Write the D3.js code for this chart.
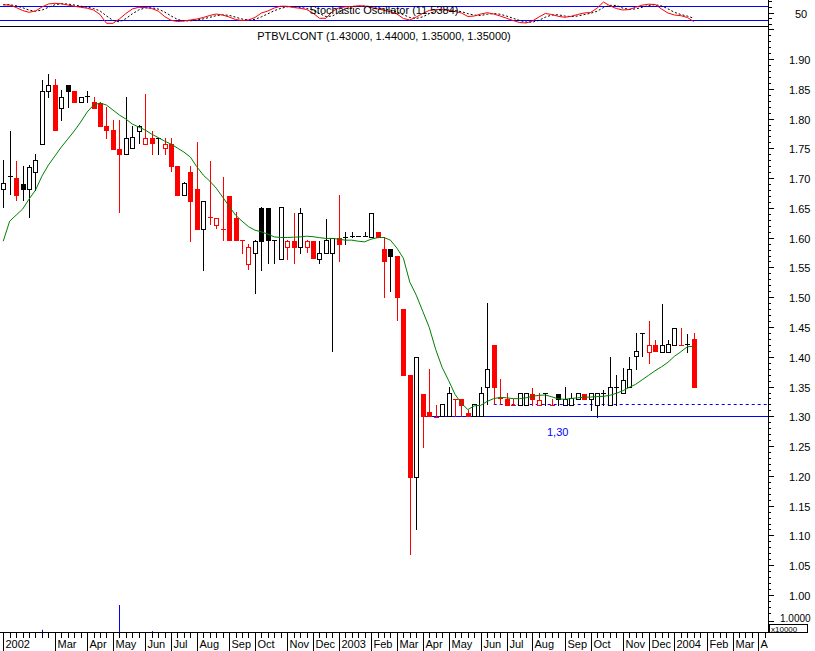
<!DOCTYPE html>
<html><head><meta charset="utf-8">
<script src="https://cdn.jsdelivr.net/npm/d3@7"></script>
<style>
html,body{margin:0;padding:0;background:#fff;}
svg{display:block;font-family:"Liberation Sans",Arial,sans-serif;}
</style></head><body>
<svg id="chart" width="815" height="651"></svg>
<script>
// ---------------- DATA ----------------
const symbol = "PTBVLCONT";
const dates = ["2002-01-04","2002-01-11","2002-01-18","2002-01-25","2002-02-01","2002-02-08","2002-02-15","2002-02-22","2002-03-01","2002-03-08","2002-03-15","2002-03-22","2002-03-28","2002-04-05","2002-04-12","2002-04-19","2002-04-26","2002-05-03","2002-05-10","2002-05-17","2002-05-24","2002-05-31","2002-06-07","2002-06-14","2002-06-21","2002-06-28","2002-07-05","2002-07-12","2002-07-19","2002-07-26","2002-08-02","2002-08-09","2002-08-16","2002-08-23","2002-08-30","2002-09-06","2002-09-13","2002-09-20","2002-09-27","2002-10-04","2002-10-11","2002-10-18","2002-10-25","2002-10-31","2002-11-08","2002-11-15","2002-11-22","2002-11-29","2002-12-06","2002-12-13","2002-12-20","2002-12-27",
"2003-01-03","2003-01-10","2003-01-17","2003-01-24","2003-01-31","2003-02-07","2003-02-14","2003-02-21","2003-02-28","2003-03-07","2003-03-14","2003-03-21","2003-03-28","2003-04-04","2003-04-11","2003-04-17","2003-04-25","2003-05-02","2003-05-09","2003-05-16","2003-05-23","2003-05-30","2003-06-06","2003-06-13","2003-06-20","2003-06-27","2003-07-04","2003-07-11","2003-07-18","2003-07-25","2003-08-01","2003-08-08","2003-08-15","2003-08-22","2003-08-29","2003-09-05","2003-09-12","2003-09-19","2003-09-26","2003-10-03","2003-10-10","2003-10-17","2003-10-24","2003-10-31","2003-11-07","2003-11-14","2003-11-21","2003-11-28","2003-12-05","2003-12-12","2003-12-19","2003-12-26","2004-01-02","2004-01-09","2004-01-16","2004-01-23"];
const futureDates = ["2004-01-30","2004-02-06","2004-02-13","2004-02-20","2004-02-27","2004-03-05","2004-03-12","2004-03-19","2004-03-26","2004-04-02","2004-04-09"];

const open = [1.681,1.703,1.701,1.690,1.681,1.711,1.758,1.847,1.856,1.817,
1.856,1.846,1.827,1.838,1.827,1.826,1.788,1.780,1.749,1.740,
1.750,1.779,1.758,1.768,1.768,1.750,1.758,1.720,1.671,1.711,
1.682,1.614,1.635,1.622,1.614,1.670,1.633,1.5955,1.555,1.5745,
1.650,1.650,1.596,1.565,1.5835,1.594,1.5835,1.5835,1.594,1.565,
1.5745,1.5745,1.600,1.601,1.602,1.6025,1.603,1.601,1.610,1.581,
1.581,1.569,1.480,1.369,1.198,1.338,1.308,1.2995,1.300,1.300,
1.3297,1.3286,1.305,1.300,1.300,1.349,1.419,1.331,1.3286,1.319,
1.3197,1.3197,1.338,1.3197,1.3392,1.3197,1.338,1.3197,1.3197,1.3286,
1.338,1.3286,1.3197,1.3395,1.3197,1.3492,1.3392,1.3492,1.4008,1.440,
1.4081,1.4193,1.4081,1.4081,1.4205,1.4205,1.421,1.43];
const high = [1.730,1.779,1.729,1.720,1.722,1.740,1.865,1.875,1.866,1.848,
1.856,1.846,1.836,1.846,1.836,1.827,1.819,1.798,1.798,1.837,
1.787,1.790,1.841,1.779,1.768,1.767,1.768,1.720,1.693,1.720,
1.761,1.661,1.728,1.633,1.702,1.670,1.643,1.5955,1.589,1.5955,
1.652,1.650,1.596,1.651,1.596,1.641,1.649,1.596,1.594,1.594,
1.631,1.600,1.671,1.610,1.610,1.6025,1.610,1.641,1.610,1.601,
1.581,1.569,1.480,1.369,1.400,1.338,1.380,1.3185,1.320,1.349,
1.3297,1.3286,1.310,1.320,1.349,1.490,1.419,1.362,1.339,1.3297,
1.3392,1.3395,1.348,1.3392,1.3392,1.3297,1.338,1.3492,1.3392,1.3392,
1.338,1.3392,1.3395,1.345,1.3997,1.3689,1.3812,1.3997,1.440,1.440,
1.4597,1.4289,1.4894,1.4289,1.4491,1.4491,1.439,1.44];
const low = [1.652,1.674,1.663,1.663,1.634,1.680,1.758,1.837,1.780,1.798,
1.819,1.827,1.827,1.827,1.818,1.788,1.768,1.749,1.643,1.740,
1.750,1.759,1.758,1.740,1.740,1.740,1.712,1.671,1.671,1.5946,
1.614,1.545,1.623,1.616,1.5955,1.5966,1.5960,1.5745,1.547,1.507,
1.545,1.557,1.557,1.565,1.565,1.557,1.5745,1.576,1.566,1.557,
1.5745,1.410,1.561,1.590,1.601,1.6025,1.603,1.601,1.601,1.5005,
1.511,1.461,1.370,1.069,1.110,1.248,1.300,1.2995,1.300,1.300,
1.300,1.300,1.300,1.300,1.300,1.320,1.320,1.320,1.3197,1.319,
1.3197,1.3197,1.3197,1.3197,1.3197,1.3197,1.3197,1.3197,1.3197,1.3286,
1.3286,1.310,1.2988,1.3197,1.3197,1.3197,1.3392,1.3492,1.3802,1.4008,
1.3903,1.4097,1.4081,1.4081,1.4205,1.4205,1.408,1.35];
const close = [1.691,1.703,1.672,1.682,1.719,1.730,1.847,1.856,1.780,1.836,
1.847,1.827,1.836,1.838,1.818,1.788,1.780,1.749,1.740,1.768,
1.769,1.787,1.768,1.759,1.768,1.758,1.720,1.671,1.691,1.662,
1.614,1.661,1.635,1.633,1.614,1.5966,1.5960,1.5955,1.5835,1.5945,
1.5950,1.5955,1.596,1.651,1.5946,1.5845,1.641,1.5946,1.566,1.575,
1.596,1.600,1.590,1.601,1.602,1.6025,1.603,1.641,1.601,1.561,
1.569,1.5005,1.370,1.198,1.400,1.301,1.300,1.2995,1.320,1.340,
1.3297,1.3185,1.300,1.320,1.340,1.380,1.349,1.331,1.3197,1.319,
1.3392,1.3395,1.3286,1.328,1.3392,1.3197,1.3286,1.3297,1.330,1.3392,
1.3286,1.3392,1.3395,1.3395,1.3492,1.3492,1.3605,1.3802,1.4092,1.440,
1.4205,1.4097,1.4205,1.421,1.4491,1.4205,1.421,1.35];

// moving average (green line), read per bar
const movingAvg = [1.5941,1.6277,1.6378,1.6479,1.6647,1.6798,1.7034,1.7218,1.7370,1.7521,
1.7655,1.7790,1.7941,1.8109,1.8227,1.8261,1.8227,1.8143,1.8059,1.7992,
1.7908,1.7857,1.7807,1.7739,1.7681,1.7622,1.7571,1.7504,1.7437,1.7353,
1.7190,1.7050,1.6950,1.6832,1.6681,1.6529,1.6378,1.6277,1.6185,1.6126,
1.6097,1.6059,1.6013,1.6003,1.6003,1.6008,1.6013,1.6025,1.6016,1.6000,
1.5987,1.5987,1.5975,1.5958,1.5958,1.5941,1.5929,1.5975,1.6000,1.6003,
1.5958,1.5824,1.5656,1.5252,1.5034,1.4765,1.4496,1.4126,1.3824,1.3605,
1.3370,1.3218,1.3113,1.3176,1.3185,1.3252,1.3297,1.3319,1.3311,1.3297,
1.3297,1.3311,1.3336,1.3353,1.3358,1.3328,1.3294,1.3286,1.3299,1.3311,
1.3319,1.3324,1.3331,1.3336,1.3353,1.3387,1.3429,1.3487,1.3538,1.3613,
1.3689,1.3765,1.3832,1.3908,1.4008,1.4084,1.4168,1.4176];

// stochastic oscillator (%K red, %D dashed)
const stochK = [83.7,82.8,72.1,59.2,51.5,57.1,74.2,87.1,90.1,88,
82.8,77.7,73,69.1,61.4,42.1,4.3,4.3,22.7,46.4,
65.7,73,72.1,67.8,57.1,33.5,17.2,12,14.2,18.5,
22.7,29.2,37.8,44.2,39.9,31.3,20.6,16.3,18.5,29.2,
48.5,57.1,70,77.7,77.3,72.1,68.7,63.5,48.5,25.8,
25.8,54.9,70.8,75.1,76.4,79.4,78.5,72.1,66.5,60.1,
54.1,44.2,24.9,18.5,31.3,46.4,59.2,63.5,63.5,59.2,
54.9,48.5,33.5,35.6,44.2,49.8,44.2,35.6,25.8,16.3,
7.7,5.6,14.2,31.3,46.4,42.1,34.3,30,34.3,42.1,
48.5,50.6,68.7,95.7,79.4,67.8,61.4,63.5,73.4,82,
86.3,85,65.7,48.5,39.9,36.9,29.2,11.5384];
const stochD = [84,84,79.5,71.4,61,55.9,60.9,72.8,83.8,88.4,
87,82.8,77.8,73.3,67.8,57.5,35.9,16.9,10.4,24.5,
44.9,61.7,70.3,71,65.7,52.8,35.9,20.9,14.5,14.9,
18.5,23.5,29.9,37.1,40.6,38.5,30.6,22.7,18.5,21.3,
32.1,44.9,58.5,68.3,75,75.7,72.7,68.1,60.2,45.9,
33.4,35.5,50.5,66.9,74.1,77,78.1,76.7,72.4,66.2,
60.2,52.8,41.1,29.2,24.9,32.1,45.6,56.4,62.1,62.1,
59.2,54.2,45.6,39.2,37.8,43.2,46.1,43.2,35.2,25.9,
16.6,9.9,9.2,17,30.6,39.9,40.9,35.5,32.9,35.5,
41.6,47.1,55.9,71.7,81.3,81,69.5,64.2,66.1,73,
80.6,84.4,79,66.4,51.4,41.8,35.3,25.9];
const stochLevels = [20, 80];
const stochName = "Stochastic Oscillator";

// volume (x10000)
const volumeDates = ["2002-02-15","2002-05-10","2002-06-14"];
const volumeValues = [0.2, 2.45, 0.08];

// horizontal support lines
const levelValues = [1.30, 1.32];
const levelStartDates = ["2003-04-04","2003-06-20"];
const levelLabel = "1,30";

const priceTicks = [1.00,1.05,1.10,1.15,1.20,1.25,1.30,1.35,1.40,1.45,1.50,1.55,1.60,1.65,1.70,1.75,1.80,1.85,1.90];

// ---------------- LAYOUT ----------------
const plotRight = 768, mainTop = 27, axisY = 632, oscBottom = 26;
const RED = "#ff0000", BLACK = "#000000", GREEN = "#008000", BLUE = "#0000ff";
const svg = d3.select("#chart");
const parse = d3.timeParse("%Y-%m-%d");
const allDates = dates.concat(futureDates).map(parse);
const idxOf = s => dates.indexOf(s);

const x = d3.scaleLinear().domain([-0.5, allDates.length - 0.5]).range([0, plotRight]);
const y = d3.scaleLinear().domain([1.00, 1.90]).range([595, 59]);
const yOsc = d3.scaleLinear().domain([0, 100]).range([24.3, 1]);
const yVol = d3.scaleLinear().domain([0, 1]).range([axisY, 621]);
const px = v => Math.round(v) + 0.5;

svg.append("defs").html(
  `<clipPath id="mainClip"><rect x="0" y="${mainTop}" width="${plotRight}" height="${axisY-mainTop}"/></clipPath>
   <clipPath id="oscClip"><rect x="0" y="0" width="${plotRight}" height="${oscBottom}"/></clipPath>
   <clipPath id="labClip"><rect x="0" y="${axisY}" width="${plotRight}" height="30"/></clipPath>`);

// ---------- oscillator panel ----------
const osc = svg.append("g").attr("clip-path", "url(#oscClip)");
stochLevels.forEach(v => {
  osc.append("line").attr("x1", 0).attr("x2", plotRight)
    .attr("y1", px(yOsc(v))).attr("y2", px(yOsc(v)))
    .attr("stroke", BLUE).attr("stroke-width", 1);
});
const oscLine = d3.line().x((d, i) => x(i)).y(d => yOsc(d));
osc.append("path").attr("d", oscLine(stochD)).attr("fill", "none")
  .attr("stroke", BLACK).attr("stroke-width", 1).attr("stroke-dasharray", "2,2");
osc.append("path").attr("d", oscLine(stochK)).attr("fill", "none")
  .attr("stroke", RED).attr("stroke-width", 1);
svg.append("text").attr("x", plotRight / 2).attr("y", 14).attr("text-anchor", "middle")
  .attr("font-size", 11).attr("fill", BLACK)
  .text(`${stochName} (${stochK[stochK.length - 1].toFixed(4)})`);
svg.append("line").attr("x1", 0).attr("x2", plotRight).attr("y1", oscBottom + 0.5).attr("y2", oscBottom + 0.5)
  .attr("stroke", BLACK);

// oscillator axis
[0, 25, 50, 75, 100].forEach(v => {
  const yy = px(yOsc(v));
  svg.append("line").attr("x1", plotRight).attr("x2", plotRight + (v === 50 ? 6 : 4))
    .attr("y1", yy).attr("y2", yy).attr("stroke", BLACK);
});
svg.append("text").attr("x", 795).attr("y", px(yOsc(50)) + 4).attr("font-size", 11).text("50");

// ---------- title ----------
const last = dates.length - 1;
svg.append("text").attr("x", plotRight / 2).attr("y", 40).attr("text-anchor", "middle")
  .attr("font-size", 11)
  .text(`${symbol} (${[open[last], high[last], low[last], close[last]].map(v => v.toFixed(5)).join(", ")})`);

// ---------- main panel ----------
const main = svg.append("g").attr("clip-path", "url(#mainClip)");

// support levels
levelValues.forEach((v, k) => {
  main.append("line").attr("x1", x(idxOf(levelStartDates[k]))).attr("x2", plotRight)
    .attr("y1", px(y(v))).attr("y2", px(y(v)))
    .attr("stroke", BLUE).attr("stroke-width", 1)
    .attr("stroke-dasharray", k === 0 ? null : "3,3");
});
svg.append("text").attr("x", 547).attr("y", px(y(levelValues[0])) + 19)
  .attr("font-size", 11).attr("fill", BLUE).text(levelLabel);

// candles
dates.forEach((d, i) => {
  const cx = Math.round(x(i));
  const col = (i > 0 && close[i] < close[i - 1]) ? RED : BLACK;
  const yH = Math.round(y(high[i])), yL = Math.round(y(low[i]));
  const yO = Math.round(y(open[i])), yC = Math.round(y(close[i]));
  if (yL > yH) {
    main.append("line").attr("x1", cx + 0.5).attr("x2", cx + 0.5)
      .attr("y1", yH).attr("y2", yL + 1).attr("stroke", col);
  }
  if (open[i] === close[i] || yO === yC) {
    main.append("line").attr("x1", cx - 2).attr("x2", cx + 3)
      .attr("y1", yC + 0.5).attr("y2", yC + 0.5).attr("stroke", col);
  } else if (close[i] > open[i]) {
    main.append("rect").attr("x", cx - 2 + 0.5).attr("y", yC + 0.5)
      .attr("width", 4).attr("height", yO - yC)
      .attr("fill", "#fff").attr("stroke", col).attr("stroke-width", 1);
  } else {
    main.append("rect").attr("x", cx - 2).attr("y", yO)
      .attr("width", 5).attr("height", yC - yO + 1).attr("fill", col);
  }
});

// moving average
main.append("path")
  .attr("d", d3.line().x((d, i) => x(i)).y(d => y(d))(movingAvg))
  .attr("fill", "none").attr("stroke", GREEN).attr("stroke-width", 1);

// volume
volumeDates.forEach((d, k) => {
  const xi = px(x(idxOf(d)));
  svg.append("line").attr("x1", xi).attr("x2", xi)
    .attr("y1", yVol(volumeValues[k])).attr("y2", axisY).attr("stroke", BLUE);
});

// ---------- right price axis ----------
svg.append("line").attr("x1", plotRight + 0.5).attr("x2", plotRight + 0.5)
  .attr("y1", 0).attr("y2", axisY + 1).attr("stroke", BLACK);
for (let k = 96; k <= 195; k++) {
  const v = k / 100;
  const yy = px(y(v));
  if (yy < mainTop + 2 || yy > 618) continue;
  const major = k % 5 === 0;
  svg.append("line").attr("x1", plotRight).attr("x2", plotRight + (major ? 6 : 3))
    .attr("y1", yy).attr("y2", yy).attr("stroke", BLACK);
}
priceTicks.forEach(v => {
  svg.append("text").attr("x", 789).attr("y", px(y(v)) + 4).attr("font-size", 11)
    .text(v.toFixed(2));
});
// volume axis label
svg.append("line").attr("x1", plotRight).attr("x2", plotRight + 6)
  .attr("y1", px(yVol(1))).attr("y2", px(yVol(1))).attr("stroke", BLACK);
svg.append("text").attr("x", 780).attr("y", 622).attr("font-size", 10).text("1.0000");
svg.append("rect").attr("x", 769.5).attr("y", 624.5).attr("width", 38).attr("height", 8)
  .attr("fill", "#fff").attr("stroke", BLACK);
svg.append("text").attr("x", 771).attr("y", 632).attr("font-size", 8).text("x10000");

// ---------- bottom time axis ----------
svg.append("line").attr("x1", 0).attr("x2", plotRight + 1).attr("y1", axisY + 0.5).attr("y2", axisY + 0.5)
  .attr("stroke", BLACK);
allDates.forEach((d, i) => {
  svg.append("line").attr("x1", px(x(i))).attr("x2", px(x(i)))
    .attr("y1", axisY).attr("y2", axisY + 6).attr("stroke", BLACK);
});
const labG = svg.append("g").attr("clip-path", "url(#labClip)");
let lastEnd = -100;
const fmtMonth = d3.timeFormat("%b");
allDates.forEach((d, i) => {
  if (i > 0 && d.getMonth() === allDates[i - 1].getMonth()) return;
  const sx = px(x(i));
  if (sx < lastEnd + 2) return;
  const label = d.getMonth() === 0 ? String(d.getFullYear()) : fmtMonth(d);
  labG.append("line").attr("x1", sx).attr("x2", sx).attr("y1", axisY).attr("y2", 651).attr("stroke", BLACK);
  const t = labG.append("text").attr("x", sx + 2).attr("y", 648).attr("font-size", 11).text(label);
  lastEnd = sx + 2 + t.node().getComputedTextLength();
});
</script>
</body></html>
